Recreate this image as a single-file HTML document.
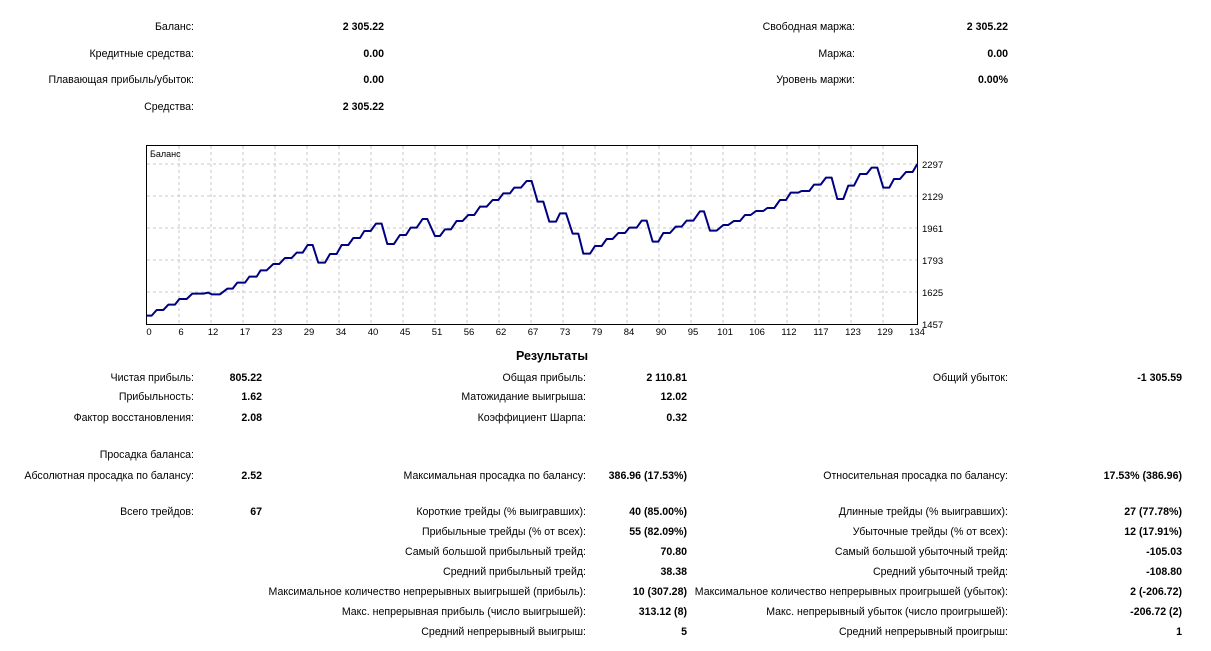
<!DOCTYPE html>
<html><head><meta charset="utf-8"><style>
body{margin:0;width:1211px;height:651px;background:#fff;font-family:"Liberation Sans",sans-serif;font-size:10.6px;color:#000;position:relative;overflow:hidden}
.l,.v{position:absolute;white-space:nowrap;line-height:13px}
.l{text-align:right}
.v{text-align:right;font-weight:bold}
svg{position:absolute;left:0;top:0}
</style></head><body>
<div id="t"></div>
<svg width="1211" height="651" font-family="'Liberation Sans',sans-serif" font-size="10">
<rect x="146.5" y="145.5" width="771" height="179" fill="#fff" stroke="#000"/>
<g stroke="#c8c8c8" stroke-dasharray="3,3">
<line x1="147" x2="917" y1="164" y2="164"/><line x1="147" x2="917" y1="196" y2="196"/><line x1="147" x2="917" y1="228" y2="228"/><line x1="147" x2="917" y1="260" y2="260"/><line x1="147" x2="917" y1="292" y2="292"/>
<g id="vg"></g>
</g>
<text x="150" y="157" font-size="9">Баланс</text>
<g id="xl" font-size="9.5" text-anchor="middle"></g>
<g font-size="9.5">
<text x="922" y="168">2297</text><text x="922" y="200">2129</text><text x="922" y="232">1961</text><text x="922" y="264">1793</text><text x="922" y="296">1625</text><text x="922" y="328">1457</text>
</g>
<g fill="none" stroke="#000080" stroke-width="2" stroke-linejoin="round">
<polyline vector-effect="non-scaling-stroke" transform="translate(140,140) scale(0.3333)" points="20,527 35,527 50,510 70,510 85,494 105,494 118,477 140,477 157,461 190,461 205,458 215,463 240,463 262,446 278,446 292,428 315,428 328,410 350,410 362,391 380,391 400,372 418,372 435,354 455,354 470,338 488,338 503,315 518,315 535,368 555,368 570,342 590,342 605,315 625,315 640,294 660,294 673,273 692,273 708,251 725,251 742,312 762,312 780,285 798,285 812,263 830,263 848,237 862,237 885,288 900,288 915,268 933,268 950,243 968,243 985,225 1003,225 1020,200 1040,200 1058,180 1075,180 1090,160 1110,160 1123,143 1143,143 1160,123 1175,123 1193,185"/>
<polyline vector-effect="non-scaling-stroke" transform="translate(530,140) scale(0.3333)" points="20,185 40,185 58,245 78,245 90,220 108,220 128,281 145,281 160,341 180,341 195,318 215,318 230,297 248,297 265,279 285,279 298,263 320,263 335,242 350,242 368,305 385,305 400,279 420,279 437,260 455,260 470,242 490,242 510,214 522,214 540,272 560,272 580,255 595,255 612,243 630,243 645,225 662,225 678,213 700,213 712,204 733,204 750,180 768,180 782,158 805,158 815,153 838,153 852,134 872,134 888,113 905,113 922,177 940,177 955,137 972,137 990,102 1010,102 1025,83 1042,83 1060,143 1078,143 1092,117 1110,117 1128,96 1148,96 1162,72"/>
</g>
</svg>
<div class="v" style="left:0;width:1104px;top:350px;font-size:12.5px;text-align:center">Результаты</div>
<script>
var t=document.getElementById('t'),h='';
function L(r,y,s){h+='<div class="l" style="right:'+(1211-r)+'px;top:'+(y-6)+'px">'+s+'</div>';}
function V(r,y,s){h+='<div class="v" style="right:'+(1211-r)+'px;top:'+(y-6)+'px">'+s+'</div>';}
var d=[[194,384,27,'Баланс:','2 305.22'],[194,384,54,'Кредитные средства:','0.00'],[194,384,80,'Плавающая прибыль/убыток:','0.00'],[194,384,107,'Средства:','2 305.22'],
[855,1008,27,'Свободная маржа:','2 305.22'],[855,1008,54,'Маржа:','0.00'],[855,1008,80,'Уровень маржи:','0.00%'],
[194,262,378,'Чистая прибыль:','805.22'],[194,262,397,'Прибыльность:','1.62'],[194,262,418,'Фактор восстановления:','2.08'],[194,262,455,'Просадка баланса:',''],[194,262,476,'Абсолютная просадка по балансу:','2.52'],[194,262,512,'Всего трейдов:','67'],
[586,687,378,'Общая прибыль:','2 110.81'],[586,687,397,'Матожидание выигрыша:','12.02'],[586,687,418,'Коэффициент Шарпа:','0.32'],[586,687,476,'Максимальная просадка по балансу:','386.96 (17.53%)'],
[586,687,512,'Короткие трейды (% выигравших):','40 (85.00%)'],[586,687,532,'Прибыльные трейды (% от всех):','55 (82.09%)'],[586,687,552,'Самый большой прибыльный трейд:','70.80'],[586,687,572,'Средний прибыльный трейд:','38.38'],[586,687,592,'Максимальное количество непрерывных выигрышей (прибыль):','10 (307.28)'],[586,687,612,'Макс. непрерывная прибыль (число выигрышей):','313.12 (8)'],[586,687,632,'Средний непрерывный выигрыш:','5'],
[1008,1182,378,'Общий убыток:','-1 305.59'],[1008,1182,476,'Относительная просадка по балансу:','17.53% (386.96)'],[1008,1182,512,'Длинные трейды (% выигравших):','27 (77.78%)'],[1008,1182,532,'Убыточные трейды (% от всех):','12 (17.91%)'],[1008,1182,552,'Самый большой убыточный трейд:','-105.03'],[1008,1182,572,'Средний убыточный трейд:','-108.80'],[1008,1182,592,'Максимальное количество непрерывных проигрышей (убыток):','2 (-206.72)'],[1008,1182,612,'Макс. непрерывный убыток (число проигрышей):','-206.72 (2)'],[1008,1182,632,'Средний непрерывный проигрыш:','1']];
d.forEach(function(a){L(a[0],a[2],a[3]);if(a[4])V(a[1],a[2],a[4]);});
t.innerHTML=h;
var labs=[0,6,12,17,23,29,34,40,45,51,56,62,67,73,79,84,90,95,101,106,112,117,123,129,134],vg='',xl='';
labs.forEach(function(n,k){var x=147+32*k;if(k>0&&k<24)vg+='<line x1="'+x+'" x2="'+x+'" y1="146" y2="324"/>';xl+='<text x="'+(x+2)+'" y="335">'+n+'</text>';});
document.getElementById('vg').innerHTML=vg;document.getElementById('xl').innerHTML=xl;
</script>
</body></html>
